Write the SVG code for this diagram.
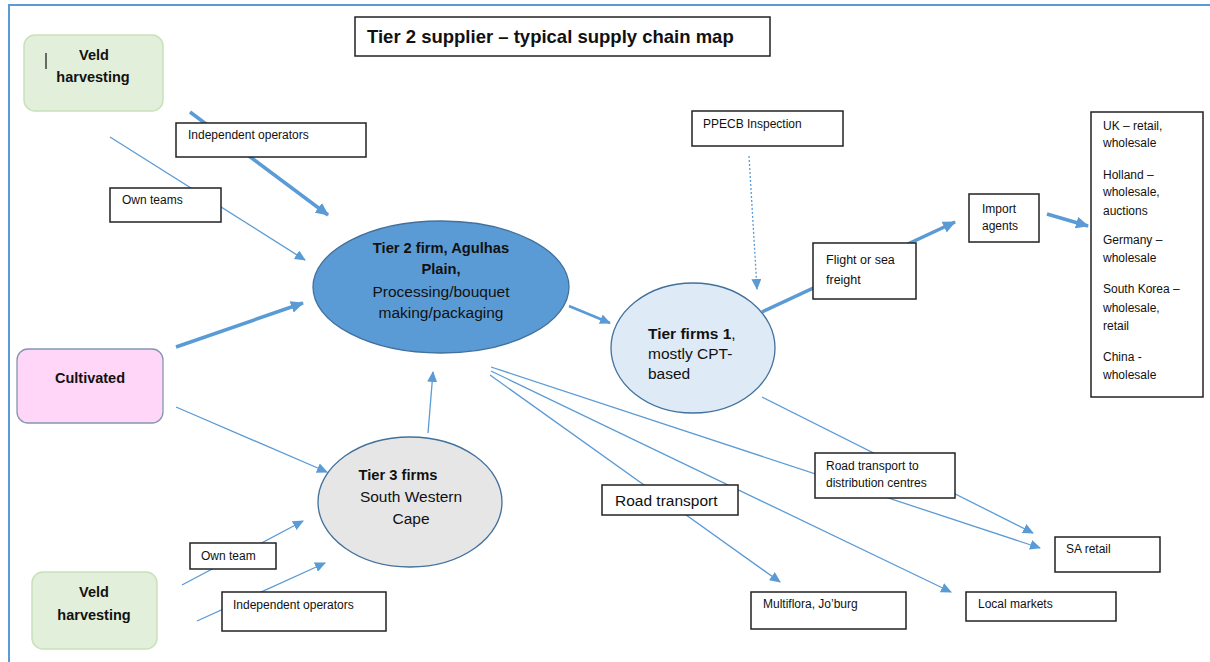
<svg xmlns="http://www.w3.org/2000/svg" width="1210" height="662" viewBox="0 0 1210 662">
<style>
  text { font-family: "Liberation Sans", Arial, sans-serif; fill: #111; }
  .box { fill: #fff; stroke: #222; stroke-width: 1.5; }
  .lbl { font-size: 12px; }
  .b { font-weight: bold; }
  .c { stroke: #5b9bd5; fill: none; }
  .thin { stroke-width: 1.3; }
  .mid { stroke-width: 2.5; }
  .thick { stroke-width: 3.5; }
</style>
<defs>
  <marker id="ah" markerUnits="userSpaceOnUse" markerWidth="12" markerHeight="10" refX="10" refY="5" orient="auto">
    <path d="M0,0 L11,5 L0,10 Z" fill="#5b9bd5"/>
  </marker>
  <marker id="ahb" markerUnits="userSpaceOnUse" markerWidth="14" markerHeight="12" refX="12" refY="6" orient="auto">
    <path d="M0,0 L13,6 L0,12 Z" fill="#5b9bd5"/>
  </marker>
</defs>
<rect x="0" y="0" width="1210" height="662" fill="#fff"/>
<path d="M9,662 V5 H1210" fill="none" stroke="#5b9bd5" stroke-width="2"/>

<g id="connectors">
  <line class="c thick" x1="190" y1="112" x2="328" y2="215" marker-end="url(#ahb)"/>
  <line class="c thin" x1="110" y1="137" x2="305" y2="260" marker-end="url(#ah)"/>
  <line class="c thick" x1="176" y1="347" x2="303" y2="303" marker-end="url(#ahb)"/>
  <line class="c thin" x1="176" y1="407" x2="327" y2="472" marker-end="url(#ah)"/>
  <line class="c thin" x1="428" y1="433" x2="433" y2="372" marker-end="url(#ah)"/>
  <line class="c thin" x1="182" y1="585" x2="303" y2="521" marker-end="url(#ah)"/>
  <line class="c thin" x1="197" y1="621" x2="325" y2="563" marker-end="url(#ah)"/>
  <line class="c mid" x1="569" y1="306" x2="610" y2="323" marker-end="url(#ah)"/>
  <line class="c thin" x1="749" y1="156" x2="757" y2="289" stroke-dasharray="2,2" marker-end="url(#ah)"/>
  <line class="c thick" x1="762" y1="312" x2="955" y2="222" marker-end="url(#ahb)"/>
  <line class="c thick" x1="1047" y1="214" x2="1088" y2="226" marker-end="url(#ahb)"/>
  <line class="c thin" x1="762" y1="397" x2="1033" y2="533" marker-end="url(#ah)"/>
  <line class="c thin" x1="491" y1="367" x2="1040" y2="548" marker-end="url(#ah)"/>
  <line class="c thin" x1="491" y1="371" x2="951" y2="592" marker-end="url(#ah)"/>
  <line class="c thin" x1="490" y1="375" x2="780" y2="582" marker-end="url(#ah)"/>
</g>

<g id="title">
  <rect class="box" x="355" y="17" width="415" height="39"/>
  <text class="b" x="367" y="43" font-size="18.5">Tier 2 supplier – typical supply chain map</text>
</g>

<g id="veld-top">
  <rect x="24" y="35" width="139" height="76" rx="11" fill="#e2efda" stroke="#c9e1bb" stroke-width="1.5"/>
  <line x1="46" y1="53" x2="46" y2="69" stroke="#222" stroke-width="1.3"/>
  <text class="b" x="94" y="60" font-size="14.5" text-anchor="middle">Veld</text>
  <text class="b" x="93" y="82" font-size="14.5" text-anchor="middle">harvesting</text>
</g>

<g id="indep-top">
  <rect class="box" x="176" y="123" width="190" height="34"/>
  <text class="lbl" x="188" y="139">Independent operators</text>
</g>

<g id="own-teams">
  <rect class="box" x="110" y="188" width="111" height="34"/>
  <text class="lbl" x="122" y="204">Own teams</text>
</g>

<g id="cultivated">
  <rect x="17" y="349" width="146" height="74" rx="11" fill="#ffd5f8" stroke="#8497b0" stroke-width="1.3"/>
  <text class="b" x="90" y="383" font-size="14.5" text-anchor="middle">Cultivated</text>
</g>

<g id="tier2">
  <ellipse cx="441" cy="287" rx="128" ry="66" fill="#5b9bd5" stroke="#41719c" stroke-width="1.3"/>
  <text class="b" x="441" y="253" font-size="14.7" text-anchor="middle">Tier 2 firm, Agulhas</text>
  <text class="b" x="441" y="274" font-size="14.7" text-anchor="middle">Plain,</text>
  <text x="441" y="297" font-size="15.5" text-anchor="middle">Processing/bouquet</text>
  <text x="441" y="318" font-size="15.5" text-anchor="middle">making/packaging</text>
</g>

<g id="tier1">
  <ellipse cx="693" cy="348" rx="82" ry="65" fill="#deebf7" stroke="#41719c" stroke-width="1.3"/>
  <text x="648" y="339" font-size="15.5"><tspan class="b">Tier firms 1</tspan>,</text>
  <text x="648" y="359" font-size="15.5">mostly CPT-</text>
  <text x="648" y="379" font-size="15.5">based</text>
</g>

<g id="tier3">
  <ellipse cx="410" cy="502" rx="92" ry="65" fill="#e7e6e6" stroke="#41719c" stroke-width="1.3"/>
  <text class="b" x="398" y="480" font-size="14.7" text-anchor="middle">Tier 3 firms</text>
  <text x="411" y="502" font-size="15.5" text-anchor="middle">South Western</text>
  <text x="411" y="524" font-size="15.5" text-anchor="middle">Cape</text>
</g>

<g id="veld-bottom">
  <rect x="32" y="572" width="125" height="77" rx="11" fill="#e2efda" stroke="#c9e1bb" stroke-width="1.5"/>
  <text class="b" x="94" y="597" font-size="14.5" text-anchor="middle">Veld</text>
  <text class="b" x="94" y="620" font-size="14.5" text-anchor="middle">harvesting</text>
</g>

<g id="own-team">
  <rect class="box" x="190" y="543" width="86" height="26"/>
  <text class="lbl" x="201" y="560">Own team</text>
</g>

<g id="indep-bottom">
  <rect class="box" x="222" y="592" width="164" height="39"/>
  <text class="lbl" x="233" y="609">Independent operators</text>
</g>

<g id="ppecb">
  <rect class="box" x="692" y="111" width="151" height="35"/>
  <text class="lbl" x="703" y="128">PPECB Inspection</text>
</g>

<g id="flight">
  <rect class="box" x="813" y="243" width="103" height="56"/>
  <text x="826" y="264" font-size="12.5">Flight or sea</text>
  <text x="826" y="284" font-size="12.5">freight</text>
</g>

<g id="import">
  <rect class="box" x="969" y="194" width="70" height="48"/>
  <text class="lbl" x="982" y="213">Import</text>
  <text class="lbl" x="982" y="230">agents</text>
</g>

<g id="countries">
  <rect class="box" x="1091" y="112" width="112" height="285"/>
  <text class="lbl" x="1103" y="130">UK – retail,</text>
  <text class="lbl" x="1103" y="147">wholesale</text>
  <text class="lbl" x="1103" y="179">Holland –</text>
  <text class="lbl" x="1103" y="196">wholesale,</text>
  <text class="lbl" x="1103" y="215">auctions</text>
  <text class="lbl" x="1103" y="244">Germany –</text>
  <text class="lbl" x="1103" y="262">wholesale</text>
  <text class="lbl" x="1103" y="293">South Korea –</text>
  <text class="lbl" x="1103" y="312">wholesale,</text>
  <text class="lbl" x="1103" y="330">retail</text>
  <text class="lbl" x="1103" y="361">China -</text>
  <text class="lbl" x="1103" y="379">wholesale</text>
</g>

<g id="road-dc">
  <rect class="box" x="815" y="453" width="140" height="45"/>
  <text class="lbl" x="826" y="470">Road transport to</text>
  <text class="lbl" x="826" y="487">distribution centres</text>
</g>

<g id="road">
  <rect class="box" x="602" y="485" width="136" height="30"/>
  <text x="615" y="506" font-size="15.5">Road transport</text>
</g>

<g id="sa-retail">
  <rect class="box" x="1055" y="537" width="105" height="35"/>
  <text class="lbl" x="1066" y="553">SA retail</text>
</g>

<g id="multiflora">
  <rect class="box" x="751" y="592" width="155" height="37"/>
  <text class="lbl" x="763" y="608">Multiflora, Jo’burg</text>
</g>

<g id="local">
  <rect class="box" x="966" y="592" width="150" height="29"/>
  <text class="lbl" x="978" y="608">Local markets</text>
</g>
</svg>
